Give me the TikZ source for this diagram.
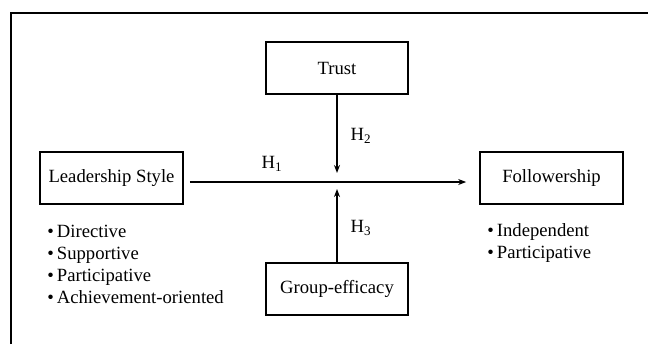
\documentclass[tikz,border=0pt]{standalone}
\usepackage{fontspec}
\setmainfont{Liberation Serif}
\usetikzlibrary{arrows.meta,positioning}
\tikzset{
    varbox/.style={draw, line width=1.5pt, minimum width=107pt, minimum height=39pt, inner sep=0pt, font=\fontsize{14}{16}\selectfont},
    link/.style={line width=1.2pt, -{Stealth[length=6pt,width=4.5pt]}},
    hyp/.style={font=\fontsize{14}{16}\selectfont},
    items/.style={align=left, anchor=west, inner sep=0pt, font=\fontsize{14}{16.5}\selectfont}
}

\begin{document}
\begin{tikzpicture}[x=0.75pt, y=-0.75pt]
    \useasboundingbox (0,0) rectangle (648,344);
    \draw[line width=1.5pt] (11,344) |- (648,13);
    \node[varbox] (trust) at (337,68) {Trust};
    \node[varbox] (lead) at (111.5,178) {Leadership Style};
    \node[varbox] (follow) at (551.5,178) {Followership};
    \node[varbox] (group) at (337,288.5) {Group-efficacy};
    \coordinate (cross) at (337,182);
    \draw[link, shorten <=4.5pt, shorten >=9.75pt] (lead.east |- cross) -- (follow.west |- cross);
    \draw[link, shorten >=6.75pt] (trust) -- (cross);
    \draw[link, shorten >=5.25pt] (group) -- (cross);
    \node[hyp] (h1) at (272,164) {H\textsubscript{1}};
    \node[hyp] (h2) at (361,136) {H\textsubscript{2}};
    \node[hyp] (h3) at (361,228) {H\textsubscript{3}};
    \node[items] (leadlist) at (47,264) {\textbullet\,Directive\\ \textbullet\,Supportive\\ \textbullet\,Participative\\ \textbullet\,Achievement-oriented};
    \node[items] (followlist) at (487,243) {\textbullet\,Independent\\ \textbullet\,Participative};
\end{tikzpicture}
\end{document}
